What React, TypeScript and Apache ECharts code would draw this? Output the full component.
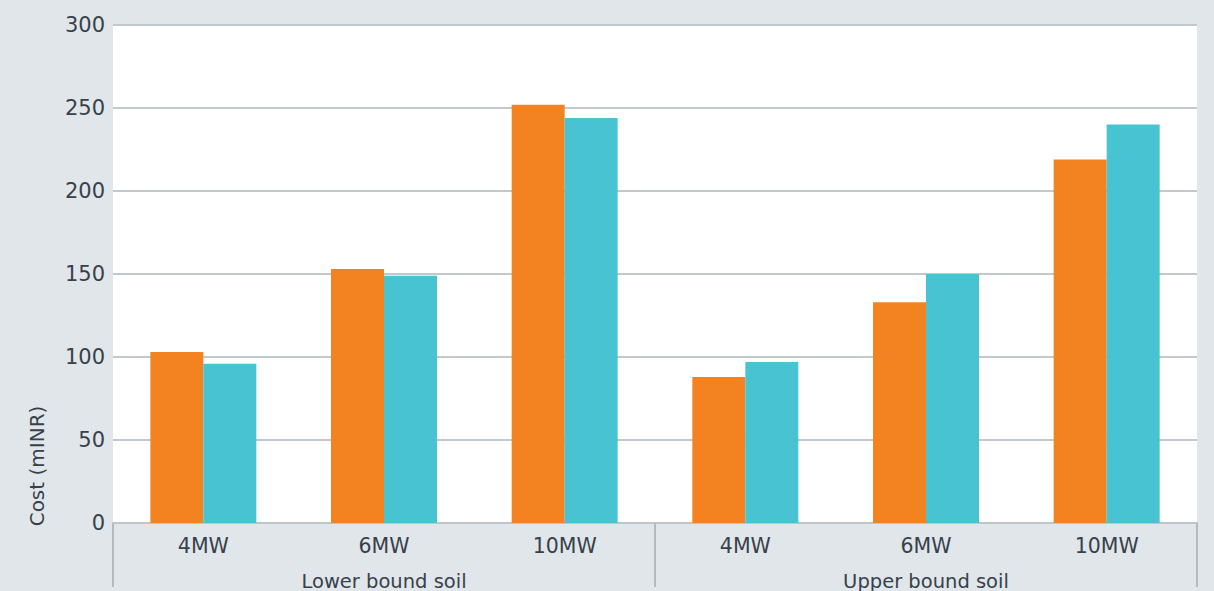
import React, { useEffect, useRef } from "react";
import * as echarts from "echarts";

const categories = ["4MW", "6MW", "10MW", "4MW", "6MW", "10MW"];
const groups = ["Lower bound soil", "Upper bound soil"];
const seriesA = [103, 153, 252, 88, 133, 219];
const seriesB = [96, 149, 244, 97, 150, 240];
const yTicks = { min: 0, max: 300, interval: 50 };
const yName = "Cost (mINR)";

const TEXT = "#37414a";
const FONT = "DejaVu Sans";

export default function App() {
  const ref = useRef<HTMLDivElement>(null);
  useEffect(() => {
    const chart = echarts.init(ref.current!, null, { renderer: "svg" });
    chart.setOption({
      animation: false,
      backgroundColor: "#e1e6ea",
      grid: {
        left: 113,
        right: 17,
        top: 25,
        bottom: 68,
        show: true,
        backgroundColor: "#ffffff",
        borderWidth: 0,
      },
      xAxis: [
        {
          type: "category",
          data: categories,
          position: "bottom",
          axisLine: { show: true, lineStyle: { color: "#c0c5c9", width: 2 } },
          axisTick: { show: false },
          axisLabel: { color: TEXT, fontSize: 20.5, fontFamily: FONT, margin: 12 },
        },
        {
          type: "category",
          data: groups,
          position: "bottom",
          axisLine: { show: false },
          axisTick: { show: true, length: 64, lineStyle: { color: "#b3bac0", width: 2 } },
          axisLabel: { color: TEXT, fontSize: 19.5, fontFamily: FONT, margin: 48 },
        },
      ],
      yAxis: {
        type: "value",
        min: yTicks.min,
        max: yTicks.max,
        interval: yTicks.interval,
        axisLine: { show: false },
        axisTick: { show: false },
        splitLine: { lineStyle: { color: "#c3c8cc", width: 2 } },
        axisLabel: { color: TEXT, fontSize: 21, fontFamily: FONT, margin: 8 },
      },
      graphic: [
        {
          type: "text",
          x: 37,
          y: 466,
          rotation: Math.PI / 2,
          style: {
            text: yName,
            fill: TEXT,
            fontSize: 20,
            fontFamily: FONT,
            align: "center",
            verticalAlign: "middle",
          },
        },
      ],
      series: [
        {
          type: "bar",
          data: seriesA,
          barWidth: 53,
          barGap: "0%",
          itemStyle: { color: "#f38321" },
        },
        {
          type: "bar",
          data: seriesB,
          barWidth: 53,
          barGap: "0%",
          itemStyle: { color: "#48c3d1" },
        },
      ],
    });
    return () => chart.dispose();
  }, []);
  return (
    <div
      ref={ref}
      style={{ position: "fixed", left: 0, top: 0, width: 1214, height: 591 }}
    />
  );
}
